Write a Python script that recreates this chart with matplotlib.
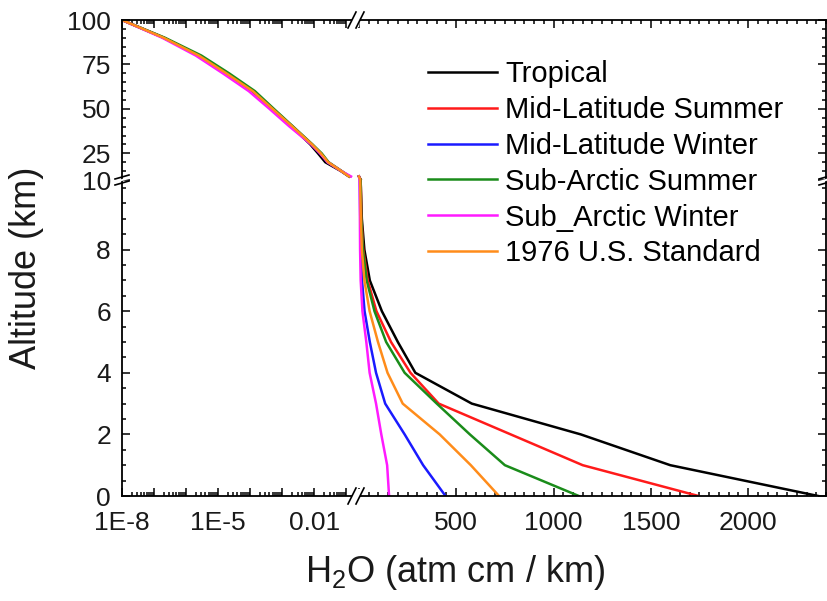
import matplotlib
matplotlib.use('Agg')
import numpy as np
import matplotlib.pyplot as plt
from matplotlib.lines import Line2D
from matplotlib.patches import Polygon
from matplotlib.ticker import MultipleLocator, FixedLocator, NullFormatter

plt.rcParams['font.family'] = ['Liberation Sans', 'DejaVu Sans']
plt.rcParams['mathtext.default'] = 'regular'

# altitude levels (km)
alt_low = [0, 1, 2, 3, 4, 5, 6, 7, 8, 9, 10]
alt_high = [12, 15, 20, 25, 30, 40, 50, 60, 70, 80, 90, 100]

names = ['Tropical', 'Mid-Latitude Summer', 'Mid-Latitude Winter',
         'Sub-Arctic Summer', 'Sub_Arctic Winter', '1976 U.S. Standard']
colors = ['black', '#ff1a1a', '#1a1aff', '#1a8c1a', '#ff1aff', '#ff8c1a']

# H2O (atm cm / km), 0-10 km
trop_low = [2360, 1600, 1140, 580, 290, 200, 118, 56, 28, 15, 10]
mls_low = [1745, 1150, 780, 410, 265, 165, 90, 45, 22, 13, 10]
mlw_low = [445, 330, 235, 135, 88, 56, 29, 16, 10, 7, 5]
sas_low = [1130, 750, 570, 400, 235, 140, 80, 40, 20, 12, 9]
saw_low = [155, 145, 115, 88, 55, 38, 18, 9, 6, 5, 4]
us_low = [720, 575, 415, 225, 147, 98, 55, 28, 15, 10, 7]

# H2O (atm cm / km), 12-100 km
trop_high = [0.12, 0.068, 0.022, 0.013, 0.0075, 0.0020, 5e-4, 1.15e-4, 1.8e-5, 2.5e-6, 2e-7, 1e-8]
mls_high = [0.125, 0.07, 0.027, 0.016, 0.0085, 0.0021, 5e-4, 1.2e-4, 1.8e-5, 2.5e-6, 2e-7, 1e-8]
mlw_high = [0.125, 0.07, 0.026, 0.0155, 0.0083, 0.0021, 5e-4, 1.2e-4, 1.8e-5, 2.5e-6, 2e-7, 1e-8]
sas_high = [0.125, 0.072, 0.028, 0.017, 0.0088, 0.0022, 5.5e-4, 1.4e-4, 2.2e-5, 3e-6, 2.2e-7, 1e-8]
saw_high = [0.14, 0.07, 0.026, 0.015, 0.008, 0.0017, 4e-4, 9e-5, 1.4e-5, 2e-6, 1.8e-7, 1e-8]
us_high = [0.12, 0.07, 0.027, 0.016, 0.0085, 0.0021, 5e-4, 1.2e-4, 1.8e-5, 2.5e-6, 2e-7, 1e-8]

profiles_low = [trop_low, mls_low, mlw_low, sas_low, saw_low, us_low]
profiles_high = [trop_high, mls_high, mlw_high, sas_high, saw_high, us_high]

log_ticks = [1e-8, 1e-7, 1e-6, 1e-5, 1e-4, 1e-3, 1e-2, 1e-1]
log_labels = ['1E-8', '', '', '1E-5', '', '', '0.01', '']
lin_ticks = [0, 500, 1000, 1500, 2000]
lin_labels = ['', '500', '1000', '1500', '2000']
top_yticks = [10, 25, 50, 75, 100]
low_yticks = [0, 2, 4, 6, 8]

W, H = 828, 601
fig = plt.figure(figsize=(W / 100, H / 100), dpi=100)


def rect(x0, y0, x1, y1):
    return [x0 / W, 1 - y1 / H, (x1 - x0) / W, (y1 - y0) / H]


xb, yb = 356, 180
ax_tl = fig.add_axes(rect(122, 20, xb, yb))
ax_tr = fig.add_axes(rect(xb, 20, 826, yb))
ax_bl = fig.add_axes(rect(122, yb, xb, 496))
ax_br = fig.add_axes(rect(xb, yb, 826, 496))

alt = np.array(alt_low + alt_high)
upper = alt >= 12   # log part of the x axis
lower = alt <= 12   # linear part of the x axis
for name, c, lo, hi in zip(names, colors, profiles_low, profiles_high):
    h2o = np.array(lo + hi)
    for ax in (ax_tl, ax_bl):
        ax.plot(h2o[upper], alt[upper], color=c, lw=1.8, label=name)
    for ax in (ax_tr, ax_br):
        ax.plot(h2o[lower], alt[lower], color=c, lw=1.8, label=name)

tc = '#1a1a1a'
for ax, top, left in [(ax_tl, True, True), (ax_tr, True, False),
                      (ax_bl, False, True), (ax_br, False, False)]:
    if left:
        ax.set_xscale('log')
        ax.set_xlim(1e-8, 0.2)
        ax.xaxis.set_major_locator(FixedLocator(log_ticks))
        ax.xaxis.set_minor_locator(FixedLocator(
            [m * d for d in log_ticks for m in range(2, 10)]))
        ax.set_xticklabels(log_labels)
    else:
        ax.set_xlim(-15, 2400)
        ax.set_xticks(lin_ticks)
        ax.set_xticklabels(lin_labels)
        ax.xaxis.set_minor_locator(MultipleLocator(50))
    if top:
        ax.set_ylim(10, 100)
        ax.set_yticks(top_yticks)
        ax.yaxis.set_minor_locator(MultipleLocator(5))
    else:
        ax.set_ylim(0, 10.26)
        ax.set_yticks(low_yticks)
        ax.yaxis.set_minor_locator(MultipleLocator(0.5))
    ax.xaxis.set_minor_formatter(NullFormatter())
    ax.spines['top'].set_visible(top)
    ax.spines['bottom'].set_visible(not top)
    ax.spines['left'].set_visible(left)
    ax.spines['right'].set_visible(not left)
    for s in ax.spines.values():
        s.set_linewidth(1.3)
    ax.tick_params(which='both', direction='in', top=top, bottom=not top,
                   left=left, right=not left, labeltop=False,
                   labelbottom=not top, labelleft=left, labelright=False,
                   labelsize=19, labelcolor=tc, width=1.1)
    ax.tick_params(which='major', length=6)
    ax.tick_params(which='minor', length=3)
    ax.tick_params(axis='x', pad=11)
    ax.tick_params(axis='y', pad=8)
    ax.set_facecolor('none')


# axis break marks
def brk(x, y, horiz):
    fx = lambda v: v / W
    fy = lambda v: 1 - v / H
    if horiz:
        gap = Polygon([(fx(x - 3), fy(y - 7)), (fx(x + 5), fy(y - 7)),
                       (fx(x + 3), fy(y + 7)), (fx(x - 5), fy(y + 7))],
                      closed=True, transform=fig.transFigure, fc='white', ec='none')
        fig.add_artist(gap)
        for dx in (-4, 4):
            fig.add_artist(Line2D([fx(x + dx - 4), fx(x + dx + 4)],
                                  [fy(y + 8), fy(y - 8)], color='black', lw=1.2,
                                  transform=fig.transFigure))
    else:
        gap = Polygon([(fx(x - 7), fy(y + 1)), (fx(x + 7), fy(y - 3)),
                       (fx(x + 7), fy(y - 1)), (fx(x - 7), fy(y + 3))],
                      closed=True, transform=fig.transFigure, fc='white', ec='none')
        fig.add_artist(gap)
        for dy in (-3, 3):
            fig.add_artist(Line2D([fx(x - 7), fx(x + 7)],
                                  [fy(y + dy + 2), fy(y + dy - 2)], color='black',
                                  lw=1.2, transform=fig.transFigure))


brk(xb, 20, True)
brk(xb, 496, True)
brk(122, yb, False)
brk(826, yb, False)

handles, labels = ax_br.get_legend_handles_labels()
fig.legend(handles, labels, loc='upper left', bbox_to_anchor=(428 / W, 1 - 60 / H),
           frameon=False, fontsize=21, handlelength=2.35, handletextpad=0.3,
           labelspacing=0.27, borderpad=0, borderaxespad=0)

fig.text(27 / W, 1 - 268 / H, 'Altitude (km)', rotation=90, ha='center',
         va='center', fontsize=26, color=tc)
fig.text(455 / W, 1 - 582 / H, 'H$_2$O (atm cm / km)', ha='center',
         va='baseline', fontsize=26, color=tc)

fig.savefig('out.png', dpi=100)
